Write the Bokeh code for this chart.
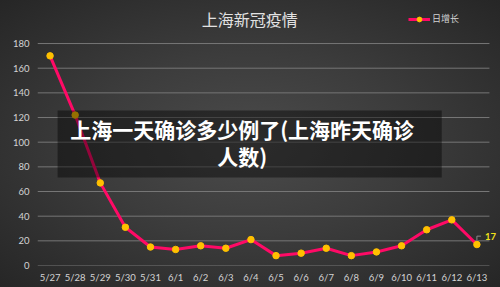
from bokeh.plotting import figure
from bokeh.models import Label, BoxAnnotation, Legend, LegendItem, Range1d, FixedTicker
from bokeh.embed import file_html
from bokeh.resources import INLINE

# ---- data ----
dates = ["5/27", "5/28", "5/29", "5/30", "5/31", "6/1", "6/2", "6/3", "6/4",
         "6/5", "6/6", "6/7", "6/8", "6/9", "6/10", "6/11", "6/12", "6/13"]
daily = [170, 122, 67, 31, 15, 13, 16, 14, 21, 8, 10, 14, 8, 11, 16, 29, 37, 17]
y_ticks = [0, 20, 40, 60, 80, 100, 120, 140, 160, 180]
title_text = "上海新冠疫情"
series_name = "日增长"
overlay_line1 = "上海一天确诊多少例了(上海昨天确诊"
overlay_line2 = "人数)"

CJK = "Noto Sans CJK SC"
LAT = "Lato"

# category centres (index + 0.5)
xs = [i + 0.5 for i in range(len(dates))]
n = len(dates)

p = figure(width=500, height=287, title=None,
           x_range=Range1d(0, n + 0.44), y_range=Range1d(0, 214.9),
           output_backend="svg", toolbar_location=None,
           min_border_left=37, min_border_right=0, min_border_top=0, min_border_bottom=22)
p.background_fill_color = None
p.border_fill_color = None
p.outline_line_color = None
p.styles = {"background": "radial-gradient(ellipse at 50% 50%, #4b4b4b 0%, #3c3c3c 45%, #262626 100%)"}

# axes
p.yaxis.ticker = FixedTicker(ticks=y_ticks)
p.xaxis.ticker = FixedTicker(ticks=xs)
p.xaxis.major_label_overrides = {x: d for x, d in zip(xs, dates)}
for ax in (p.xaxis[0], p.yaxis[0]):
    ax.axis_line_color = None
    ax.major_tick_line_color = None
    ax.minor_tick_line_color = None
    ax.major_tick_out = 0
    ax.major_tick_in = 0
    ax.minor_tick_out = 0
    ax.major_label_text_color = "#d4d4d4"
    ax.major_label_text_font = LAT
    ax.major_label_text_font_size = "9.5px"
p.yaxis.major_label_standoff = 8
p.xaxis.major_label_standoff = 6
p.xgrid.grid_line_color = None
p.ygrid.grid_line_color = None

# horizontal grid lines spanning the category band
p.segment(x0=0, x1=n, y0=y_ticks, y1=y_ticks, line_color="#767676", line_width=1)

line = p.line(xs, daily, line_color="#ff0a66", line_width=3, line_join="round")
pts = p.scatter(xs, daily, size=6.5, fill_color="#ffc000", line_color="#ffc000")

# leader line + last value label
lx, ly = xs[-1], daily[-1]
p.line([lx, lx, lx + 0.16], [ly + 3.5, ly + 6.8, ly + 6.8], line_color="#8a8a8a", line_width=1)
p.add_layout(Label(x=lx, y=ly, text=str(ly), x_offset=8, y_offset=5,
                   text_color="#f2e21a", text_font=LAT, text_font_style="bold",
                   text_font_size="9.5px", text_baseline="bottom"))

# title
p.add_layout(Label(x=8.45, y=200.3, text=title_text, text_align="center", text_baseline="middle",
                   text_color="#e2e2e2", text_font=CJK, text_font_size="16px"))

# legend
leg = Legend(items=[LegendItem(label=series_name, renderers=[line, pts])],
             location=(371, 240), orientation="horizontal",
             padding=0, margin=0, spacing=0, glyph_width=22, glyph_height=12,
             label_height=12, label_standoff=2,
             label_text_font=CJK, label_text_font_size="9px", label_text_color="#d4d4d4",
             background_fill_alpha=0, border_line_alpha=0)
p.add_layout(leg, "center")

# overlay banner
p.add_layout(BoxAnnotation(left=0.8, right=16.1, bottom=71.4, top=125.7,
                           fill_color="black", fill_alpha=0.42, line_color=None))
p.add_layout(Label(x=8.15, y=110.3, text=overlay_line1, text_align="center", text_baseline="middle",
                   text_color="white", text_font=CJK, text_font_style="bold", text_font_size="21px"))
p.add_layout(Label(x=8.15, y=89.2, text=overlay_line2, text_align="center", text_baseline="middle",
                   text_color="white", text_font=CJK, text_font_style="bold", text_font_size="21px"))

open("out.html", "w").write(file_html(p, INLINE))
